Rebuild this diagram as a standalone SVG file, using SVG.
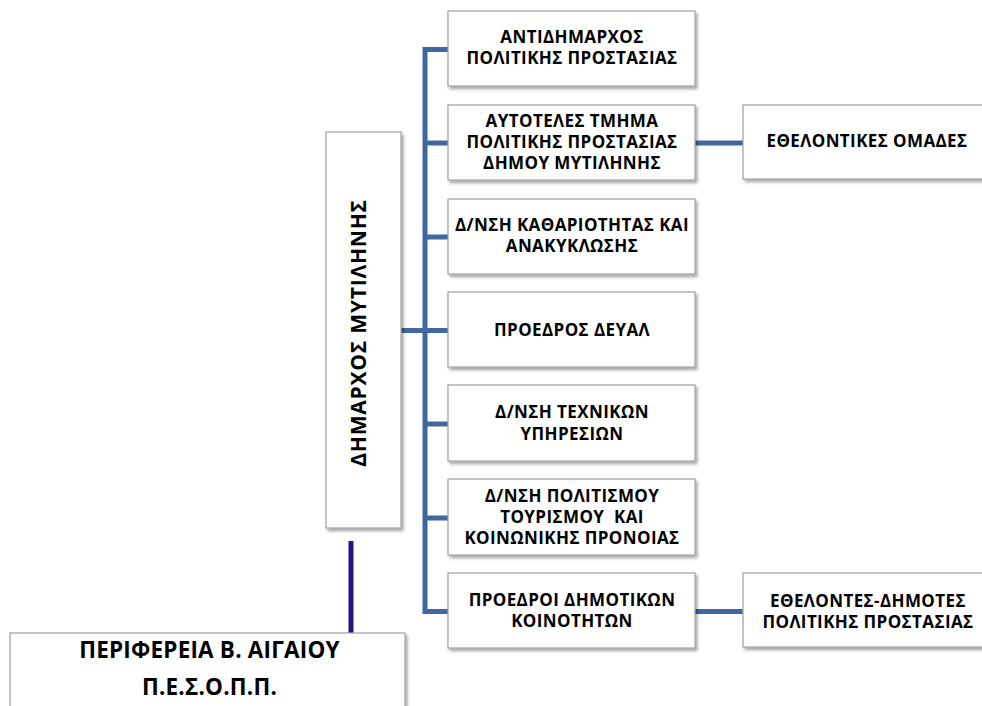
<svg xmlns="http://www.w3.org/2000/svg" width="982" height="706" viewBox="0 0 982 706">
  <defs>
    <filter id="sh" x="-10%" y="-10%" width="130%" height="130%">
      <feDropShadow dx="2" dy="2.5" stdDeviation="1.5" flood-color="#000" flood-opacity="0.35"/>
    </filter>
    <style>
      .box { fill: #ffffff; stroke: #a0a0a0; stroke-width: 1.2; filter: url(#sh); }
      .t { font-family: "Open Sans", "Liberation Sans", sans-serif; font-weight: 700; font-size: 17px; letter-spacing: 0.4px; fill: #000; text-anchor: middle; }
      .big { font-size: 22.5px; letter-spacing: 0.2px; }
      .vert { font-size: 21px; letter-spacing: 0.8px; }
      .blue { fill: none; stroke: #41689e; stroke-width: 5; }
      .purple { fill: none; stroke: #2c1287; stroke-width: 5; }
    </style>
  </defs>
  <rect width="982" height="706" fill="#ffffff"/>

  <g id="connectors">
    <path class="blue" d="M449,49.5 H425 V611.5 H449"/>
    <path class="blue" d="M425,143 H449 M425,237 H449 M425,330.5 H449 M425,424 H449 M425,518 H449"/>
    <path class="blue" d="M401,330.5 H425"/>
    <path class="blue" d="M695,143 H743"/>
    <path class="blue" d="M695,611.5 H743"/>
    <path class="purple" d="M351,541 V637"/>
  </g>

  <g id="dimarxos">
    <rect class="box" x="326" y="132" width="75" height="396"/>
    <text class="t vert" transform="translate(366,333) rotate(-90)" x="0" y="0">ΔΗΜΑΡΧΟΣ ΜΥΤΙΛΗΝΗΣ</text>
  </g>

  <g id="antidimarxos">
    <rect class="box" x="448" y="11" width="247" height="75"/>
    <text class="t" x="572" y="43">ΑΝΤΙΔΗΜΑΡΧΟΣ</text>
    <text class="t" x="572" y="64">ΠΟΛΙΤΙΚΗΣ ΠΡΟΣΤΑΣΙΑΣ</text>
  </g>

  <g id="autoteles">
    <rect class="box" x="448" y="105" width="247" height="75"/>
    <text class="t" x="572" y="127">ΑΥΤΟΤΕΛΕΣ ΤΜΗΜΑ</text>
    <text class="t" x="572" y="148">ΠΟΛΙΤΙΚΗΣ ΠΡΟΣΤΑΣΙΑΣ</text>
    <text class="t" x="572" y="169">ΔΗΜΟΥ ΜΥΤΙΛΗΝΗΣ</text>
  </g>

  <g id="katharioitita">
    <rect class="box" x="448" y="199" width="247" height="75"/>
    <text class="t" x="572" y="231">Δ/ΝΣΗ ΚΑΘΑΡΙΟΤΗΤΑΣ ΚΑΙ</text>
    <text class="t" x="572" y="252">ΑΝΑΚΥΚΛΩΣΗΣ</text>
  </g>

  <g id="deyal">
    <rect class="box" x="448" y="292" width="247" height="75"/>
    <text class="t" x="572" y="336">ΠΡΟΕΔΡΟΣ ΔΕΥΑΛ</text>
  </g>

  <g id="texnikes">
    <rect class="box" x="448" y="385" width="247" height="76"/>
    <text class="t" x="572" y="418">Δ/ΝΣΗ ΤΕΧΝΙΚΩΝ</text>
    <text class="t" x="572" y="440">ΥΠΗΡΕΣΙΩΝ</text>
  </g>

  <g id="politismos">
    <rect class="box" x="448" y="479" width="247" height="76"/>
    <text class="t" x="572" y="502">Δ/ΝΣΗ ΠΟΛΙΤΙΣΜΟΥ</text>
    <text class="t" x="572" y="523" xml:space="preserve">ΤΟΥΡΙΣΜΟΥ  ΚΑΙ</text>
    <text class="t" x="572" y="544">ΚΟΙΝΩΝΙΚΗΣ ΠΡΟΝΟΙΑΣ</text>
  </g>

  <g id="proedroi">
    <rect class="box" x="448" y="573" width="247" height="75"/>
    <text class="t" x="572" y="606">ΠΡΟΕΔΡΟΙ ΔΗΜΟΤΙΚΩΝ</text>
    <text class="t" x="572" y="627">ΚΟΙΝΟΤΗΤΩΝ</text>
  </g>

  <g id="ethelontikes">
    <rect class="box" x="743" y="105" width="260" height="74"/>
    <text class="t" x="867" y="147">ΕΘΕΛΟΝΤΙΚΕΣ ΟΜΑΔΕΣ</text>
  </g>

  <g id="ethelontes">
    <rect class="box" x="743" y="573" width="260" height="74"/>
    <text class="t" x="868" y="607">ΕΘΕΛΟΝΤΕΣ-ΔΗΜΟΤΕΣ</text>
    <text class="t" x="868" y="628">ΠΟΛΙΤΙΚΗΣ ΠΡΟΣΤΑΣΙΑΣ</text>
  </g>

  <g id="perifereia">
    <rect class="box" x="10" y="633" width="395" height="90"/>
    <text class="t big" x="209.5" y="658">ΠΕΡΙΦΕΡΕΙΑ Β. ΑΙΓΑΙΟΥ</text>
    <text class="t big" x="209.5" y="695">Π.Ε.Σ.Ο.Π.Π.</text>
  </g>
</svg>
